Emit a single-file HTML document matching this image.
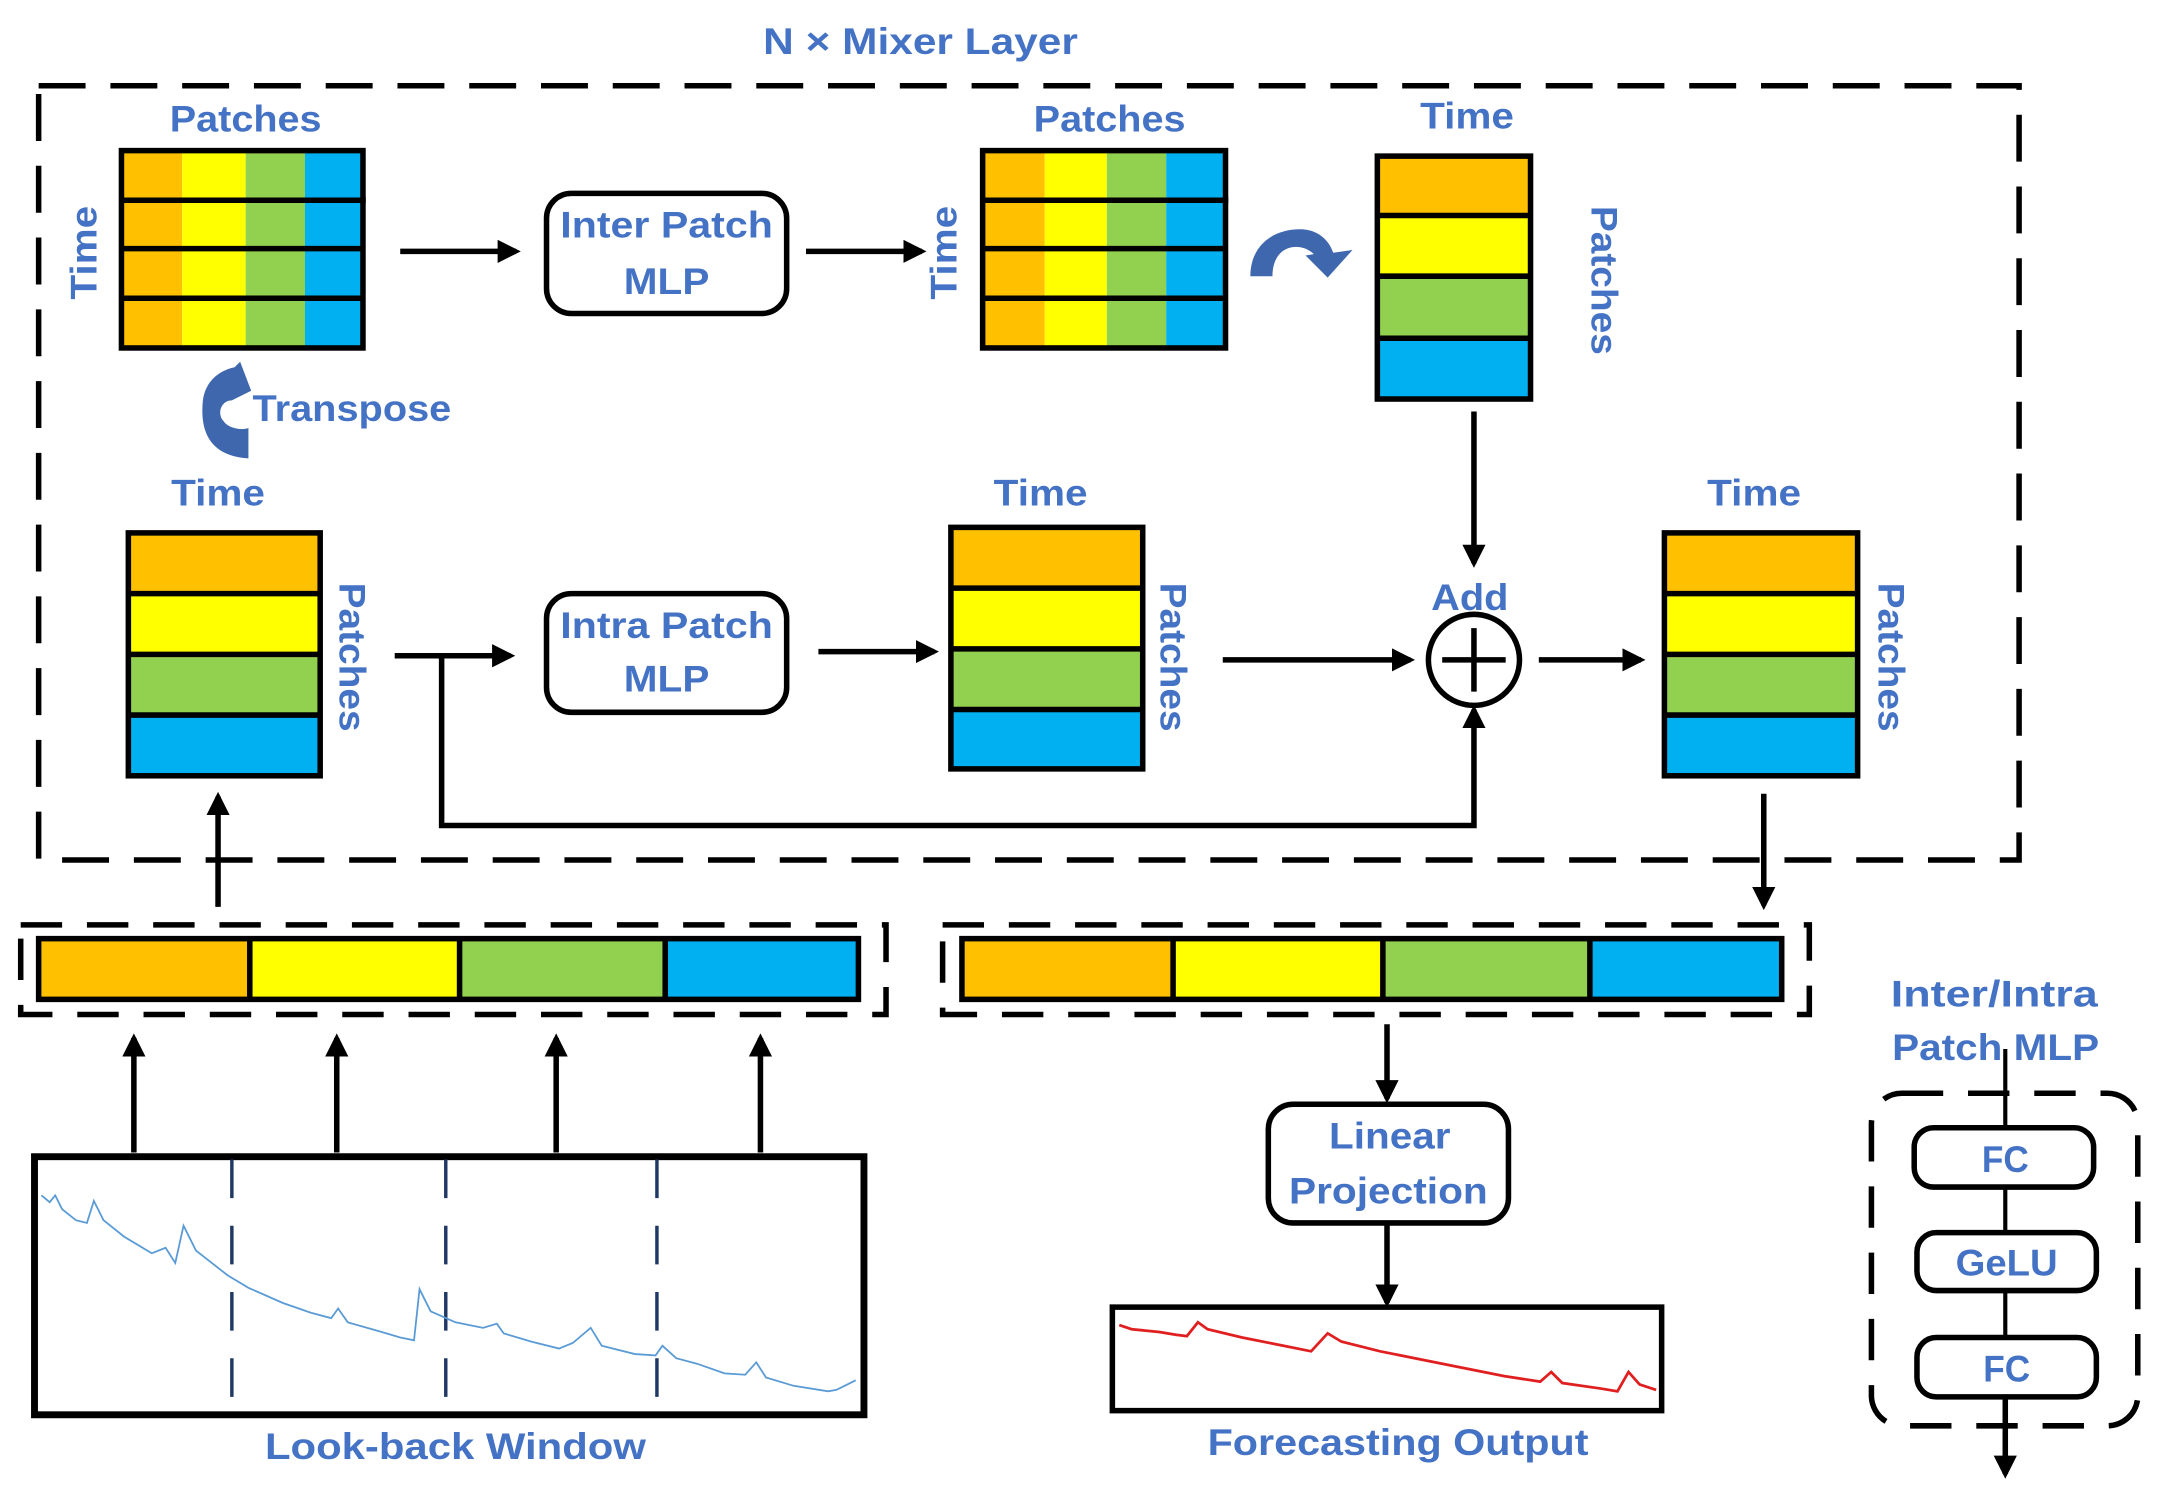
<!DOCTYPE html>
<html><head><meta charset="utf-8"><style>
html,body{margin:0;padding:0;background:#fff;}
svg{display:block;}
text{font-family:"Liberation Sans",sans-serif;fill:#4472C4;font-size:27px;font-weight:bold;}
</style></head><body>
<svg width="2164" height="1495" viewBox="0 0 1568 1083" xmlns="http://www.w3.org/2000/svg">
<defs>
<marker id="ah" viewBox="0 0 10 10" refX="8" refY="5" markerWidth="4.2" markerHeight="4.2" orient="auto"><path d="M0,0 L10,5 L0,10 z" fill="#000"/></marker>
</defs>
<text x="667" y="39" text-anchor="middle" textLength="228" lengthAdjust="spacingAndGlyphs">N ×  Mixer Layer</text>
<rect x="28" y="62" width="1435" height="561" fill="none" stroke="#000" stroke-width="4" stroke-dasharray="34,18"/>

<g stroke="none">
<rect x="88" y="109" width="44" height="143" fill="#FFC000"/>
<rect x="132" y="109" width="46" height="143" fill="#FFFF00"/>
<rect x="178" y="109" width="43" height="143" fill="#92D050"/>
<rect x="221" y="109" width="42" height="143" fill="#00B0F0"/>
<rect x="712" y="109" width="45" height="143" fill="#FFC000"/>
<rect x="757" y="109" width="45" height="143" fill="#FFFF00"/>
<rect x="802" y="109" width="43" height="143" fill="#92D050"/>
<rect x="845" y="109" width="43" height="143" fill="#00B0F0"/>
</g>
<g fill="none" stroke="#000" stroke-width="4">
<rect x="88" y="109" width="175" height="143"/>
<line x1="88" y1="145" x2="265" y2="145"/><line x1="88" y1="180" x2="263" y2="180"/><line x1="88" y1="216" x2="263" y2="216"/>
<rect x="712" y="109" width="176" height="143"/>
<line x1="712" y1="145" x2="890" y2="145"/><line x1="712" y1="180" x2="888" y2="180"/><line x1="712" y1="216" x2="888" y2="216"/>
</g>
<text x="178" y="95" text-anchor="middle" textLength="110" lengthAdjust="spacingAndGlyphs">Patches</text>
<text x="804" y="95" text-anchor="middle" textLength="110" lengthAdjust="spacingAndGlyphs">Patches</text>
<text transform="translate(70,183) rotate(-90)" text-anchor="middle" textLength="68" lengthAdjust="spacingAndGlyphs">Time</text>
<text transform="translate(693,183) rotate(-90)" text-anchor="middle" textLength="68" lengthAdjust="spacingAndGlyphs">Time</text>

<rect x="998" y="113" width="111" height="43" fill="#FFC000"/><rect x="998" y="156" width="111" height="44" fill="#FFFF00"/><rect x="998" y="200" width="111" height="45" fill="#92D050"/><rect x="998" y="245" width="111" height="44" fill="#00B0F0"/>
<rect x="93" y="386" width="139" height="44" fill="#FFC000"/><rect x="93" y="430" width="139" height="44" fill="#FFFF00"/><rect x="93" y="474" width="139" height="44" fill="#92D050"/><rect x="93" y="518" width="139" height="44" fill="#00B0F0"/>
<rect x="689" y="382" width="139" height="44" fill="#FFC000"/><rect x="689" y="426" width="139" height="44" fill="#FFFF00"/><rect x="689" y="470" width="139" height="44" fill="#92D050"/><rect x="689" y="514" width="139" height="43" fill="#00B0F0"/>
<rect x="1206" y="386" width="140" height="44" fill="#FFC000"/><rect x="1206" y="430" width="140" height="44" fill="#FFFF00"/><rect x="1206" y="474" width="140" height="44" fill="#92D050"/><rect x="1206" y="518" width="140" height="44" fill="#00B0F0"/>
<g fill="none" stroke="#000" stroke-width="4">
<rect x="998" y="113" width="111" height="176"/><line x1="998" y1="156" x2="1109" y2="156"/><line x1="998" y1="200" x2="1109" y2="200"/><line x1="998" y1="245" x2="1109" y2="245"/>
<rect x="93" y="386" width="139" height="176"/><line x1="93" y1="430" x2="232" y2="430"/><line x1="93" y1="474" x2="232" y2="474"/><line x1="93" y1="518" x2="232" y2="518"/>
<rect x="689" y="382" width="139" height="175"/><line x1="689" y1="426" x2="828" y2="426"/><line x1="689" y1="470" x2="828" y2="470"/><line x1="689" y1="514" x2="828" y2="514"/>
<rect x="1206" y="386" width="140" height="176"/><line x1="1206" y1="430" x2="1346" y2="430"/><line x1="1206" y1="474" x2="1346" y2="474"/><line x1="1206" y1="518" x2="1346" y2="518"/>
</g>
<text x="1063" y="93" text-anchor="middle" textLength="68" lengthAdjust="spacingAndGlyphs">Time</text>
<text x="158" y="366" text-anchor="middle" textLength="68" lengthAdjust="spacingAndGlyphs">Time</text>
<text x="754" y="366" text-anchor="middle" textLength="68" lengthAdjust="spacingAndGlyphs">Time</text>
<text x="1271" y="366" text-anchor="middle" textLength="68" lengthAdjust="spacingAndGlyphs">Time</text>
<text transform="translate(1153,203) rotate(90)" text-anchor="middle" textLength="108" lengthAdjust="spacingAndGlyphs">Patches</text>
<text transform="translate(246,476) rotate(90)" text-anchor="middle" textLength="108" lengthAdjust="spacingAndGlyphs">Patches</text>
<text transform="translate(841,476) rotate(90)" text-anchor="middle" textLength="108" lengthAdjust="spacingAndGlyphs">Patches</text>
<text transform="translate(1361,476) rotate(90)" text-anchor="middle" textLength="108" lengthAdjust="spacingAndGlyphs">Patches</text>

<g fill="#fff" stroke="#000" stroke-width="4">
<rect x="396" y="140" width="174" height="87" rx="18"/>
<rect x="396" y="430" width="174" height="86" rx="18"/>
<rect x="919" y="800" width="174" height="86" rx="18"/>
</g>
<text x="483" y="172" text-anchor="middle" textLength="154" lengthAdjust="spacingAndGlyphs">Inter Patch</text>
<text x="483" y="213" text-anchor="middle" textLength="62" lengthAdjust="spacingAndGlyphs">MLP</text>
<text x="483" y="462" text-anchor="middle" textLength="154" lengthAdjust="spacingAndGlyphs">Intra Patch</text>
<text x="483" y="501" text-anchor="middle" textLength="62" lengthAdjust="spacingAndGlyphs">MLP</text>
<text x="1007" y="832" text-anchor="middle" textLength="88" lengthAdjust="spacingAndGlyphs">Linear</text>
<text x="1006" y="872" text-anchor="middle" textLength="144" lengthAdjust="spacingAndGlyphs">Projection</text>

<g stroke="#000" stroke-width="4" fill="none" marker-end="url(#ah)">
<line x1="290" y1="182" x2="374" y2="182"/>
<line x1="584" y1="182" x2="668" y2="182"/>
<line x1="1068" y1="298" x2="1068" y2="408"/>
<line x1="286" y1="475" x2="370" y2="475"/>
<line x1="593" y1="472" x2="677" y2="472"/>
<line x1="886" y1="478" x2="1022" y2="478"/>
<line x1="1115" y1="478" x2="1189" y2="478"/>
<polyline points="320,475 320,598 1068,598 1068,514"/>
<line x1="1278" y1="575" x2="1278" y2="656"/>
<line x1="158" y1="657" x2="158" y2="577"/>
<line x1="97" y1="835" x2="97" y2="752"/>
<line x1="244" y1="835" x2="244" y2="752"/>
<line x1="403" y1="835" x2="403" y2="752"/>
<line x1="551" y1="835" x2="551" y2="752"/>
<line x1="1005" y1="742" x2="1005" y2="796"/>
<line x1="1005" y1="886" x2="1005" y2="944"/>
<line x1="1453" y1="1000" x2="1453" y2="1068"/>
</g>
<line x1="1453" y1="760" x2="1453" y2="1010" stroke="#000" stroke-width="3"/>

<text x="1065" y="442" text-anchor="middle" textLength="56" lengthAdjust="spacingAndGlyphs">Add</text>
<circle cx="1068" cy="478" r="33" fill="#fff" stroke="#000" stroke-width="4"/>
<line x1="1045" y1="478" x2="1091" y2="478" stroke="#000" stroke-width="4"/>
<line x1="1068" y1="455" x2="1068" y2="501" stroke="#000" stroke-width="4"/>

<path d="M906,200 C906,178 922,166 942,166 C955,166 963,174 966,183 L980,181 L962,201 L946,185 L952,184 C948,180 942,178 936,179 C926,181 922,190 922,200 Z" fill="#3F67AE"/>
<path d="M180,332 C150,330 145,310 147,290 C149,275 160,268 170,266 L174,262 L182,283 L168,290 C160,290 157,300 162,305 C165,310 175,312 180,310 Z" fill="#3F67AE"/>
<text x="183" y="305" textLength="144" lengthAdjust="spacingAndGlyphs">Transpose</text>

<g fill="none" stroke="#000" stroke-width="4" stroke-dasharray="30,18">
<rect x="15" y="670" width="627" height="65"/>
<rect x="683" y="670" width="628" height="65"/>
</g>
<rect x="28" y="680" width="153" height="44" fill="#FFC000"/><rect x="181" y="680" width="152" height="44" fill="#FFFF00"/><rect x="333" y="680" width="149" height="44" fill="#92D050"/><rect x="482" y="680" width="140" height="44" fill="#00B0F0"/>
<rect x="697" y="680" width="153" height="44" fill="#FFC000"/><rect x="850" y="680" width="152" height="44" fill="#FFFF00"/><rect x="1002" y="680" width="150" height="44" fill="#92D050"/><rect x="1152" y="680" width="139" height="44" fill="#00B0F0"/>
<g fill="none" stroke="#000" stroke-width="4">
<rect x="28" y="680" width="594" height="44"/><line x1="181" y1="680" x2="181" y2="724"/><line x1="333" y1="680" x2="333" y2="724"/><line x1="482" y1="680" x2="482" y2="724"/>
<rect x="697" y="680" width="594" height="44"/><line x1="850" y1="680" x2="850" y2="724"/><line x1="1002" y1="680" x2="1002" y2="724"/><line x1="1152" y1="680" x2="1152" y2="724"/>
</g>

<rect x="25" y="838" width="601" height="187" fill="none" stroke="#000" stroke-width="5"/>
<g stroke="#1F3864" stroke-width="2.5" stroke-dasharray="28,20">
<line x1="168" y1="840" x2="168" y2="1023"/><line x1="323" y1="840" x2="323" y2="1023"/><line x1="476" y1="840" x2="476" y2="1023"/>
</g>
<polyline fill="none" stroke="#5B9BD5" stroke-width="1.3" points="30,866 36,871 40,866 45,876 55,884 63,886 68,870 75,884 90,896 110,908 120,904 127,915 133,888 142,906 165,924 180,933 205,944 225,951 240,955 245,948 252,958 280,966 290,969 300,971 304,934 312,950 330,958 350,962 360,959 365,966 385,972 405,977 415,973 428,962 436,975 460,981 475,982 480,975 490,984 505,988 525,995 540,996 548,987 555,998 575,1004 600,1008 606,1007 612,1004 620,1000"/>
<text x="330" y="1057" text-anchor="middle" textLength="276" lengthAdjust="spacingAndGlyphs">Look-back  Window</text>

<rect x="806" y="947" width="398" height="75" fill="none" stroke="#000" stroke-width="4"/>
<polyline fill="none" stroke="#E02020" stroke-width="2" points="811,960 820,963 840,965 852,967 860,968 868,958 875,963 900,969 930,975 950,979 962,966 972,972 1000,979 1050,989 1090,997 1116,1001 1124,994 1132,1002 1160,1006 1172,1008 1180,994 1188,1003 1200,1007"/>
<text x="1013" y="1054" text-anchor="middle" textLength="276" lengthAdjust="spacingAndGlyphs">Forecasting  Output</text>

<text x="1445" y="729" text-anchor="middle" textLength="150" lengthAdjust="spacingAndGlyphs">Inter/Intra</text>
<text x="1446" y="768" text-anchor="middle" textLength="150" lengthAdjust="spacingAndGlyphs">Patch MLP</text>
<rect x="1356" y="792" width="193" height="241" rx="22" fill="none" stroke="#000" stroke-width="4" stroke-dasharray="30,18"/>
<g fill="#fff" stroke="#000" stroke-width="4">
<rect x="1387" y="817" width="130" height="43" rx="14"/>
<rect x="1389" y="893" width="130" height="42" rx="14"/>
<rect x="1389" y="969" width="130" height="43" rx="14"/>
</g>
<text x="1453" y="849" text-anchor="middle" textLength="34" lengthAdjust="spacingAndGlyphs">FC</text>
<text x="1454" y="924" text-anchor="middle" textLength="74" lengthAdjust="spacingAndGlyphs">GeLU</text>
<text x="1454" y="1001" text-anchor="middle" textLength="34" lengthAdjust="spacingAndGlyphs">FC</text>
</svg>
</body></html>
